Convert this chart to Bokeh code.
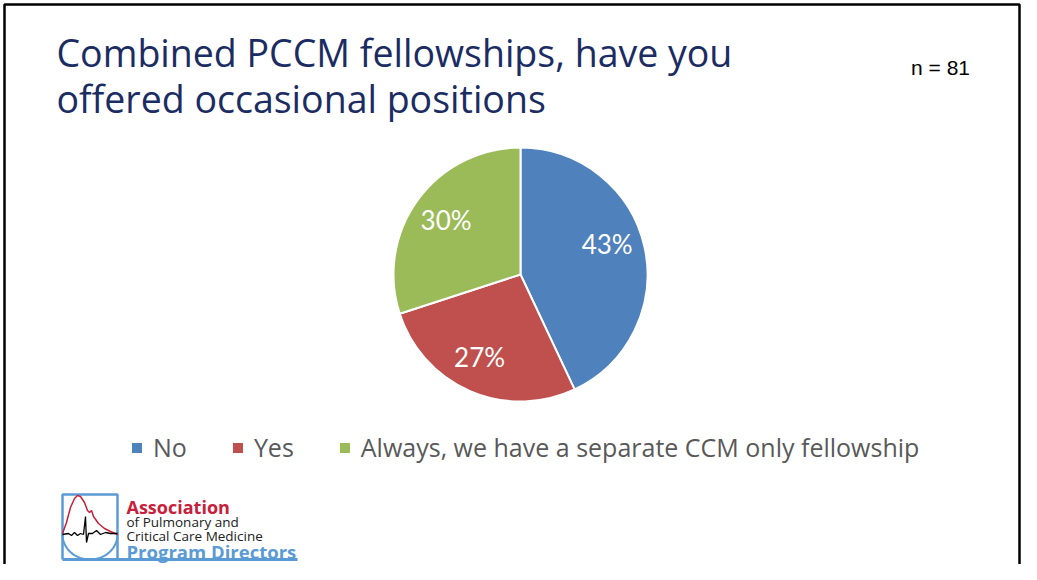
import numpy as np
from bokeh.plotting import figure
from bokeh.models import Range1d, Legend, LegendItem, ColumnDataSource
from bokeh.core.properties import value
from bokeh.embed import file_html
from bokeh.resources import INLINE

# ---- data ----
categories = ["No", "Yes", "Always, we have a separate CCM only fellowship"]
values = [43, 27, 30]
pct_labels = ["43%", "27%", "30%"]
colors = ["#4F81BD", "#C0504D", "#9BBB59"]
title_lines = ["Combined PCCM fellowships, have you", "offered occasional positions"]
n_text = "n = 81"

# ---- layout / style ----
W, H = 1021, 564
CX, CY, R = 520, 290, 127
LABEL_R = 92
label_nudge_deg = [7.0, -3.0, 0.0]
TITLE_COLOR = "#1B2C63"
FONT = "Open Sans"

p = figure(width=W, height=H, output_backend="svg", toolbar_location=None,
           x_range=Range1d(0, W), y_range=Range1d(0, H), min_border=0)
p.axis.visible = False
p.grid.visible = False
p.outline_line_color = None
p.background_fill_color = "white"
p.border_fill_color = "white"

# slide border (top, left, right)
p.line([4, 4, W - 2, W - 2], [0, H - 4, H - 4, 0], line_color="black", line_width=2.5)

# ---- pie ----
frac = np.array(values, dtype=float) / sum(values)
cum = np.concatenate([[0.0], np.cumsum(frac)])
start = np.pi / 2 - 2 * np.pi * cum[:-1]
end = np.pi / 2 - 2 * np.pi * cum[1:]
mid = (start + end) / 2 + np.radians(label_nudge_deg)
src = ColumnDataSource(dict(cat=categories, val=values, start=start, end=end, color=colors,
                            lx=CX + LABEL_R * np.cos(mid), ly=CY + LABEL_R * np.sin(mid),
                            lab=pct_labels))
wr = p.wedge(x=CX, y=CY, radius=R, start_angle="start", end_angle="end", direction="clock",
             fill_color="color", line_color="white", line_width=2, source=src)
p.text(x="lx", y="ly", text="lab", source=src, text_color="white", text_font=value("Lato"),
       text_font_size="26px", text_align="center", text_baseline="middle")

legend = Legend(items=[LegendItem(label=c, renderers=[wr], index=i) for i, c in enumerate(categories)],
                orientation="horizontal", location=(129, 100), padding=0, margin=0,
                spacing=43, label_standoff=9, glyph_width=15, glyph_height=15,
                label_text_font=FONT, label_text_font_size="25px", label_text_color="#595959",
                background_fill_alpha=0, border_line_color=None)
p.add_layout(legend, "center")

# ---- title & n ----
p.text(x=[56, 56], y=[512, 466], text=title_lines, text_color=TITLE_COLOR, text_font=value(FONT),
       text_font_size="37.5px", text_baseline="alphabetic", text_align="left")
p.text(x=[940], y=[497], text=[n_text], text_color="black", text_font=value("Liberation Sans"),
       text_font_size="21px", text_baseline="alphabetic", text_align="center")

# ---- logo (decoration) ----
LOGO_BLUE = "#5B9BD5"
p.line([62, 62, 117, 117], [5, 70, 70, 5], line_color=LOGO_BLUE, line_width=2.5)
p.line([62, 297], [5, 5], line_color=LOGO_BLUE, line_width=3)
t = np.linspace(np.pi, 2 * np.pi, 40)
p.line(89.5 + 27.5 * np.cos(t), 30 + 25 * np.sin(t), line_color=LOGO_BLUE, line_width=2)
red_x = [62, 66, 70, 74, 77, 80, 84, 87, 89, 91, 93, 98, 104, 110, 117]
red_y = [31, 42, 57, 66, 69, 68, 62, 54, 52, 54, 48, 41, 36, 33, 30]
p.line(red_x, red_y, line_color="#C8203A", line_width=1.5)
ecg_x = [62, 68, 71, 74, 77, 80, 83, 85, 86, 88, 92, 96, 100, 105, 110, 117]
ecg_y = [30, 31, 29, 32, 29, 31, 30, 48, 22, 31, 31, 34, 30, 32, 31, 31]
p.line(ecg_x, ecg_y, line_color="black", line_width=1.3)
p.text(x=[126], y=[58], text=["Association"], text_color="#C8203A", text_font=value(FONT),
       text_font_size="18px", text_font_style="bold", text_baseline="alphabetic")
p.text(x=[126, 126], y=[43, 29], text=["of Pulmonary and", "Critical Care Medicine"], text_color="#222222",
       text_font=value(FONT), text_font_size="13.5px", text_baseline="alphabetic")
p.text(x=[126], y=[13], text=["Program Directors"], text_color=LOGO_BLUE, text_font=value(FONT),
       text_font_size="18.5px", text_font_style="bold", text_baseline="alphabetic")

open("out.html", "w").write(file_html(p, INLINE))
